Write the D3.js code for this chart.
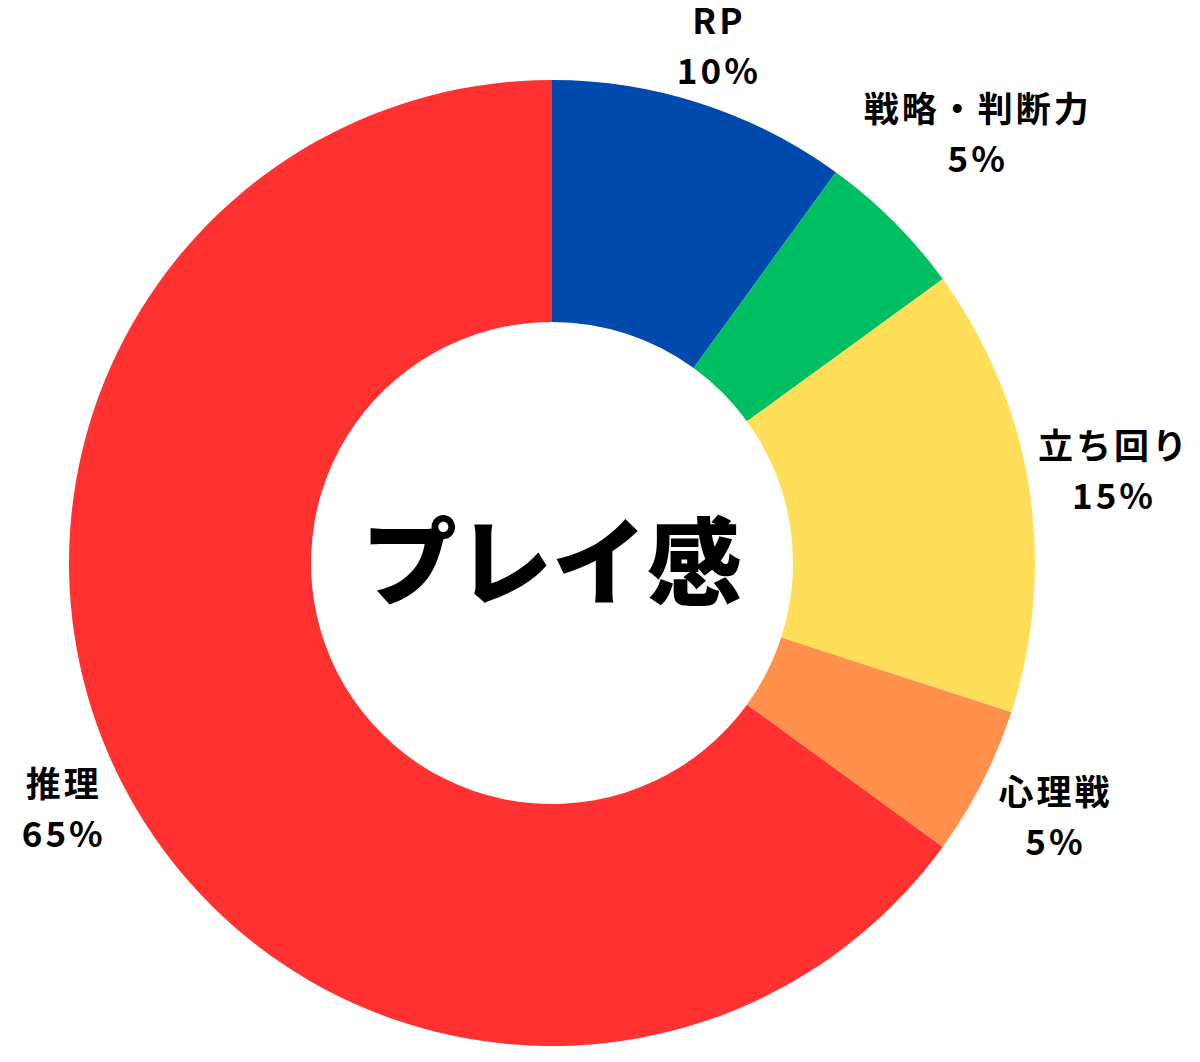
<!DOCTYPE html>
<html>
<head>
<meta charset="utf-8">
<script src="https://cdn.jsdelivr.net/npm/d3@7"></script>
<style>
  body { margin: 0; background: #fff; }
  text { font-family: "Noto Sans CJK JP", "Noto Sans", sans-serif; fill: #000; }
</style>
</head>
<body>
<div id="chart"></div>
<script>
// data
var categories = ["RP", "戦略・判断力", "立ち回り", "心理戦", "推理"];
var values = [10, 5, 15, 5, 65];
var colors = ["#004AAD", "#00BF63", "#FFDE59", "#FF914D", "#FF3131"];
var title = "プレイ感";

var w = 1200, h = 1062, cx = 552, cy = 563, outerR = 483, innerR = 241;

// label distance from centre, tuned per label so the text clears the ring
var labelR = { "RP": 540, "戦略・判断力": 602, "立ち回り": 569, "心理戦": 565, "推理": 548 };

var svg = d3.select("#chart")
  .append("svg")
  .attr("width", w)
  .attr("height", h);

var g = svg.append("g")
  .attr("transform", "translate(" + cx + "," + cy + ")");

var rows = categories.map(function(c, i) { return { name: c, value: values[i], color: colors[i] }; });

var pie = d3.pie()
  .sort(null)
  .value(function(d) { return d.value; });

var arc = d3.arc()
  .innerRadius(innerR)
  .outerRadius(outerR);

var arcs = pie(rows);

g.selectAll("path.slice")
  .data(arcs)
  .enter()
  .append("path")
  .attr("class", "slice")
  .attr("d", arc)
  .attr("fill", function(d) { return d.data.color; });

// labels
var lab = g.selectAll("g.lab")
  .data(arcs)
  .enter()
  .append("g")
  .attr("class", "lab")
  .attr("transform", function(d) {
    var r = labelR[d.data.name];
    var p = d3.arc().innerRadius(r).outerRadius(r).centroid(d);
    return "translate(" + p[0] + "," + p[1] + ")";
  });

lab.append("text")
  .attr("text-anchor", "middle")
  .attr("y", -15)
  .attr("font-size", 35)
  .attr("font-weight", 700)
  .attr("letter-spacing", 3)
  .text(function(d) { return d.data.name; });

lab.append("text")
  .attr("text-anchor", "middle")
  .attr("y", 35)
  .attr("font-size", 35)
  .attr("font-weight", 700)
  .attr("letter-spacing", 3)
  .text(function(d) { return d.data.value + "%"; });

// centre title
g.append("text")
  .attr("text-anchor", "middle")
  .attr("dominant-baseline", "central")
  .attr("y", -7)
  .attr("font-size", 95)
  .attr("font-weight", 900)
  .text(title);
</script>
</body>
</html>
